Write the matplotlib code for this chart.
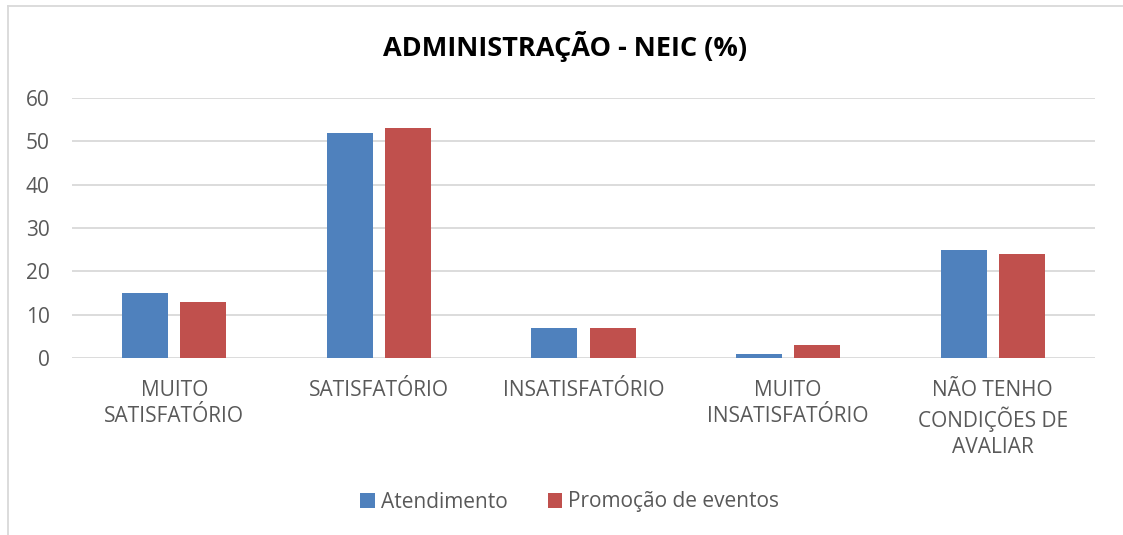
import numpy as np
import matplotlib.pyplot as plt
from matplotlib.lines import Line2D

# dados
categorias = ['MUITO\nSATISFATÓRIO', 'SATISFATÓRIO', 'INSATISFATÓRIO',
              'MUITO\nINSATISFATÓRIO', 'NÃO TENHO\nCONDIÇÕES DE\nAVALIAR']
atendimento = [15, 52, 7, 1, 25]
promocao = [13, 53, 7, 3, 24]
series = ['Atendimento', 'Promoção de eventos']

plt.rcParams['font.family'] = ['Open Sans', 'DejaVu Sans']
cor_texto = '#595959'

fig = plt.figure(figsize=(11.23, 5.35), dpi=100)
ax = fig.add_axes([72 / 1123, 1 - 358 / 535, 1023 / 1123, 260 / 535])

x = np.arange(len(categorias))
w = 0.225
ax.bar(x - 0.142, atendimento, w, color='#4F81BD', label=series[0], zorder=3)
ax.bar(x + 0.142, promocao, w, color='#C0504D', label=series[1], zorder=3)

ax.set_xlim(-0.5, len(categorias) - 0.5)
ax.set_ylim(0, 60)
ax.set_yticks(range(0, 61, 10))
ax.yaxis.grid(True, color='#D9D9D9', linewidth=1.3, zorder=0)
for s in ax.spines.values():
    s.set_visible(False)
ax.tick_params(axis='both', length=0, labelsize=15, colors=cor_texto)
ax.tick_params(axis='y', pad=16)
ax.tick_params(axis='x', pad=16)
ax.set_xticks(x)
ax.set_xticklabels(categorias, linespacing=1.28)

fig.text(565 / 1123, 1 - 47 / 535, 'ADMINISTRAÇÃO - NEIC (%)', ha='center',
         va='center', fontsize=19.5, fontweight='bold', color='black')

fig.legend(loc='center', bbox_to_anchor=(570 / 1123, 1 - 502 / 535), ncol=2,
           frameon=False, fontsize=15, handlelength=0.7, handleheight=0.7,
           handletextpad=0.3, columnspacing=1.9, labelcolor=cor_texto)

# moldura do gráfico
fig.add_artist(Line2D([8 / 1123, 8 / 1123], [0, 1 - 6 / 535],
                      transform=fig.transFigure, color='#D9D9D9', lw=1.3))
fig.add_artist(Line2D([8 / 1123, 1], [1 - 6 / 535, 1 - 6 / 535],
                      transform=fig.transFigure, color='#D9D9D9', lw=1.3))

fig.savefig('out.png', dpi=100)
